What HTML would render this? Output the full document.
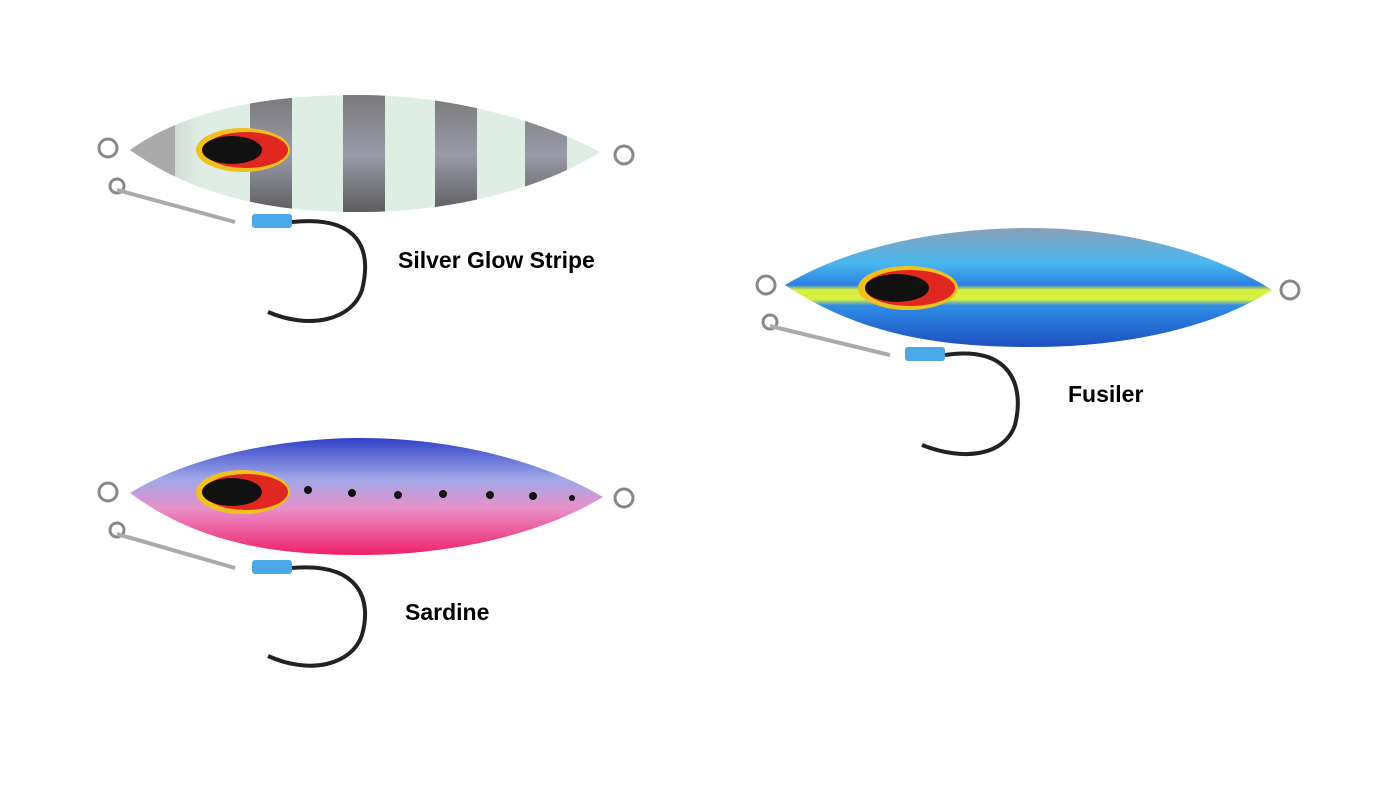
<!DOCTYPE html>
<html><head><meta charset="utf-8"><style>
html,body{margin:0;padding:0;background:#fff;}
svg{display:block}
text{font-family:"Liberation Sans",sans-serif;font-weight:bold;font-size:23px;fill:#000}
</style></head><body>
<svg width="1384" height="788" viewBox="0 0 1384 788" xmlns="http://www.w3.org/2000/svg">
<defs>
<linearGradient id="g1" x1="0" y1="0" x2="1" y2="0">
<stop offset="0" stop-color="#bbb"/><stop offset="0.15" stop-color="#dfeee4"/><stop offset="1" stop-color="#dfeee4"/>
</linearGradient>
<linearGradient id="stripe" x1="0" y1="0" x2="0" y2="1">
<stop offset="0" stop-color="#777"/><stop offset="0.5" stop-color="#9a9aa8"/><stop offset="1" stop-color="#555"/>
</linearGradient>
<linearGradient id="g2" x1="0" y1="0" x2="0" y2="1">
<stop offset="0" stop-color="#8aa0b8"/><stop offset="0.3" stop-color="#48b8f0"/><stop offset="0.48" stop-color="#2e7fe0"/><stop offset="0.52" stop-color="#d8f040"/><stop offset="0.6" stop-color="#d8f040"/><stop offset="0.65" stop-color="#2f8ee6"/><stop offset="1" stop-color="#1d4fc0"/>
</linearGradient>
<linearGradient id="g3" x1="0" y1="0" x2="0" y2="1">
<stop offset="0" stop-color="#3040c8"/><stop offset="0.35" stop-color="#a0a8e8"/><stop offset="0.6" stop-color="#e890c8"/><stop offset="1" stop-color="#f0206a"/>
</linearGradient>
<clipPath id="c1"><path d="M130,150 C200,100 300,95 360,95 C450,95 540,120 600,152 C540,190 450,212 360,212 C280,212 200,200 130,150 Z"/></clipPath>
</defs>

<g fill="none" stroke="#888" stroke-width="3">
<circle cx="108" cy="148" r="9"/><circle cx="624" cy="155" r="9"/><circle cx="117" cy="186" r="7"/>
</g>
<path d="M117,190 L235,222" stroke="#aaa" stroke-width="4" fill="none"/>
<rect x="252" y="214" width="40" height="14" rx="3" fill="#4aa8e8"/>
<path d="M292,222 C360,215 372,250 362,290 C352,320 310,330 268,312" stroke="#222" stroke-width="4" fill="none"/>
<path d="M130,150 C200,100 300,95 360,95 C450,95 540,120 600,152 C540,190 450,212 360,212 C280,212 200,200 130,150 Z" fill="url(#g1)"/>
<g clip-path="url(#c1)" fill="url(#stripe)">
<rect x="130" y="90" width="45" height="130" fill="#aaa"/>
<rect x="250" y="90" width="42" height="130"/>
<rect x="343" y="90" width="42" height="130"/>
<rect x="435" y="90" width="42" height="130"/>
<rect x="525" y="90" width="42" height="130"/>
</g>
<ellipse cx="243" cy="150" rx="47" ry="22" fill="#f0c020"/>
<ellipse cx="246" cy="150" rx="42" ry="18" fill="#e02820"/>
<ellipse cx="232" cy="150" rx="30" ry="14" fill="#111"/>
<text x="398" y="268">Silver Glow Stripe</text>

<g fill="none" stroke="#888" stroke-width="3">
<circle cx="766" cy="285" r="9"/><circle cx="1290" cy="290" r="9"/><circle cx="770" cy="322" r="7"/>
</g>
<path d="M770,326 L890,355" stroke="#aaa" stroke-width="4" fill="none"/>
<rect x="905" y="347" width="40" height="14" rx="3" fill="#4aa8e8"/>
<path d="M945,355 C1010,345 1025,385 1015,425 C1005,455 965,462 922,445" stroke="#222" stroke-width="4" fill="none"/>
<path d="M785,285 C860,240 960,228 1030,228 C1120,228 1210,250 1272,290 C1210,330 1120,347 1030,347 C940,347 860,335 785,285 Z" fill="url(#g2)"/>
<ellipse cx="908" cy="288" rx="50" ry="22" fill="#f0c020"/>
<ellipse cx="910" cy="288" rx="45" ry="18" fill="#e02820"/>
<ellipse cx="897" cy="288" rx="32" ry="14" fill="#111"/>
<text x="1068" y="402">Fusiler</text>

<g fill="none" stroke="#888" stroke-width="3">
<circle cx="108" cy="492" r="9"/><circle cx="624" cy="498" r="9"/><circle cx="117" cy="530" r="7"/>
</g>
<path d="M117,534 L235,568" stroke="#aaa" stroke-width="4" fill="none"/>
<rect x="252" y="560" width="40" height="14" rx="3" fill="#4aa8e8"/>
<path d="M292,568 C360,562 372,600 362,635 C352,665 310,675 268,656" stroke="#222" stroke-width="4" fill="none"/>
<path d="M130,493 C200,450 300,438 360,438 C450,438 540,460 603,497 C540,535 450,555 360,555 C280,555 200,545 130,493 Z" fill="url(#g3)"/>
<ellipse cx="243" cy="492" rx="47" ry="22" fill="#f0c020"/>
<ellipse cx="246" cy="492" rx="42" ry="18" fill="#e02820"/>
<ellipse cx="232" cy="492" rx="30" ry="14" fill="#111"/>
<g fill="#111">
<circle cx="308" cy="490" r="4"/><circle cx="352" cy="493" r="4"/><circle cx="398" cy="495" r="4"/><circle cx="443" cy="494" r="4"/><circle cx="490" cy="495" r="4"/><circle cx="533" cy="496" r="4"/><circle cx="572" cy="498" r="3"/>
</g>
<text x="405" y="620">Sardine</text>
</svg>
</body></html>
